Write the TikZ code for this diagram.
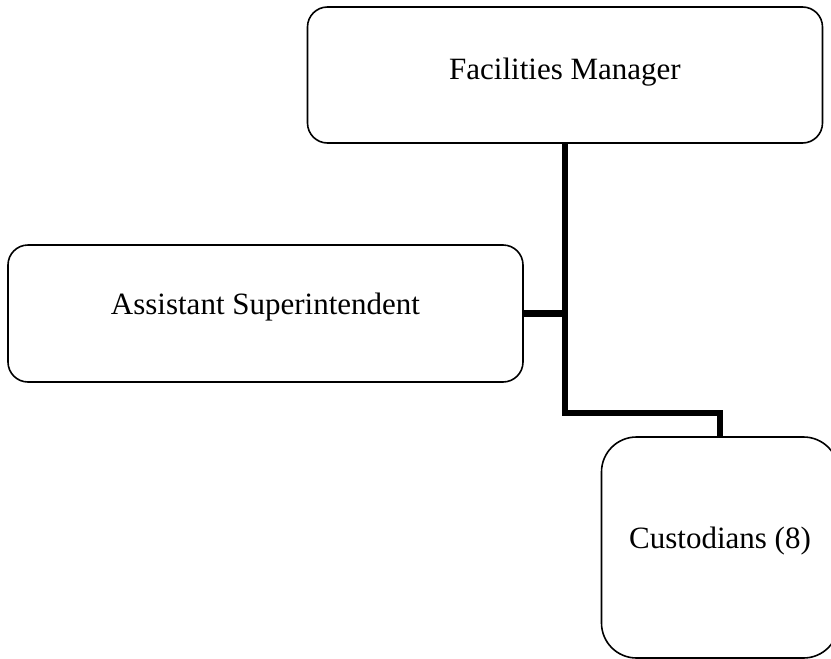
\documentclass[tikz,border=0pt]{standalone}
\usepackage{fontspec}
\setmainfont{Liberation Serif}
\begin{document}
\begin{tikzpicture}[x=1pt,y=-1pt,
  orgbox/.style={draw=black, line width=1.6pt, fill=white, rectangle,
    inner sep=0pt, outer sep=0pt, align=center,
    text height=14pt, text depth=12pt,
    font=\fontsize{31}{37}\selectfont},
  link/.style={draw=black, line width=6.5pt, line join=miter, line cap=butt}]
  \useasboundingbox (0,0) rectangle (831,659);
  % boxes of the chart
  \node[orgbox, minimum width=515pt, minimum height=136pt, rounded corners=20pt,
        text height=18pt, text depth=10pt]
    (fm) at (565,75) {Facilities Manager};
  \node[orgbox, minimum width=515pt, minimum height=137pt, rounded corners=20pt]
    (as) at (265.5,313.5) {Assistant Superintendent};
  \node[orgbox, minimum width=237pt, minimum height=221pt, rounded corners=35pt]
    (cu) at (720,547.5) {Custodians (8)};
  % reporting lines
  \coordinate (bend) at (565,413);
  \draw[link] (fm.south) -- (bend) -| (cu.north);
  \draw[link] (as.east) -- (as.east -| fm.south);
\end{tikzpicture}
\end{document}
